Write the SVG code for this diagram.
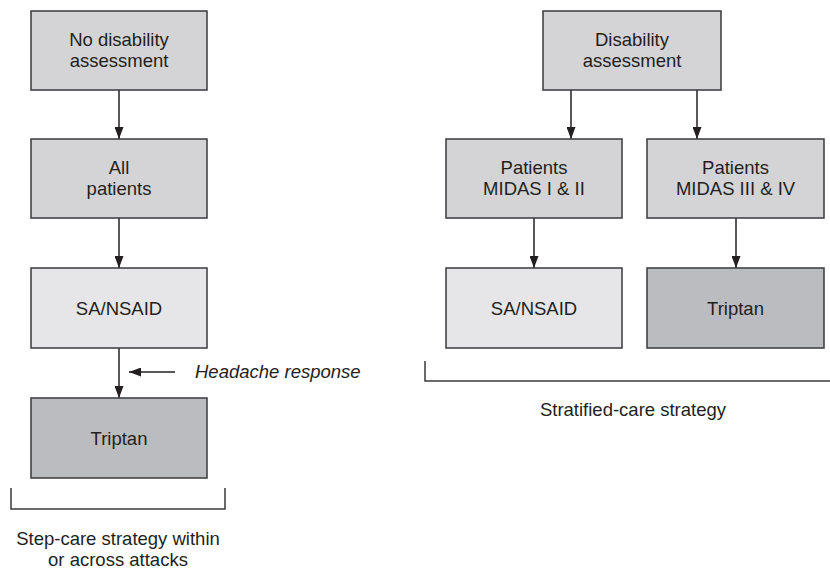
<svg xmlns="http://www.w3.org/2000/svg" width="830" height="569" viewBox="0 0 830 569">
<defs>
<marker id="ah" markerWidth="12" markerHeight="9" refX="12" refY="4.5" orient="auto" markerUnits="userSpaceOnUse" viewBox="0 0 12 9">
<path d="M0,0 L12,4.5 L0,9 Z" fill="#231f20"/>
</marker>
</defs>
<style>
.box{stroke:#3a3a3c;stroke-width:1.5}
.mid{fill:#d4d4d6}
.light{fill:#e6e6e8}
.dark{fill:#bbbcbf}
text{font-family:"Liberation Sans",Arial,sans-serif;font-size:18.5px;fill:#231f20;text-anchor:middle}
.it{font-style:italic;text-anchor:start}
.con{stroke:#231f20;stroke-width:1.5;fill:none}
.br{stroke:#3a3a3c;stroke-width:1.5;fill:none}
</style>
<rect width="830" height="569" fill="#ffffff"/>
<g id="connectors">
<line class="con" x1="119" y1="90" x2="119" y2="139" marker-end="url(#ah)"/>
<line class="con" x1="119" y1="218" x2="119" y2="268" marker-end="url(#ah)"/>
<line class="con" x1="119" y1="348" x2="119" y2="398" marker-end="url(#ah)"/>
<line class="con" x1="175" y1="372" x2="129" y2="372" marker-end="url(#ah)"/>
<line class="con" x1="571" y1="90" x2="571" y2="139" marker-end="url(#ah)"/>
<line class="con" x1="697" y1="90" x2="697" y2="139" marker-end="url(#ah)"/>
<line class="con" x1="534" y1="218" x2="534" y2="268" marker-end="url(#ah)"/>
<line class="con" x1="736" y1="218" x2="736" y2="268" marker-end="url(#ah)"/>
</g>
<g id="no-disability">
<rect class="box mid" x="31" y="11" width="176" height="79"/>
<text x="119" y="46">No disability</text>
<text x="119" y="67">assessment</text>
</g>
<g id="all-patients">
<rect class="box mid" x="31" y="139" width="176" height="79"/>
<text x="119" y="174">All</text>
<text x="119" y="195">patients</text>
</g>
<g id="sa-nsaid-left">
<rect class="box light" x="31" y="268" width="176" height="80"/>
<text x="119" y="315">SA/NSAID</text>
</g>
<g id="triptan-left">
<rect class="box dark" x="31" y="398" width="176" height="80"/>
<text x="119" y="445">Triptan</text>
</g>
<g id="headache-response">
<text class="it" x="195" y="378">Headache response</text>
</g>
<g id="step-care">
<polyline class="br" points="11,488 11,509 225,509 225,488"/>
<text x="118" y="545">Step-care strategy within</text>
<text x="118" y="566">or across attacks</text>
</g>
<g id="disability">
<rect class="box mid" x="543" y="11" width="178" height="79"/>
<text x="632" y="46">Disability</text>
<text x="632" y="67">assessment</text>
</g>
<g id="midas-1-2">
<rect class="box mid" x="446" y="139" width="176" height="79"/>
<text x="534" y="174">Patients</text>
<text x="534" y="195">MIDAS I &amp; II</text>
</g>
<g id="midas-3-4">
<rect class="box mid" x="647" y="139" width="177" height="79"/>
<text x="735.5" y="174">Patients</text>
<text x="735.5" y="195">MIDAS III &amp; IV</text>
</g>
<g id="sa-nsaid-right">
<rect class="box light" x="446" y="268" width="176" height="80"/>
<text x="534" y="315">SA/NSAID</text>
</g>
<g id="triptan-right">
<rect class="box dark" x="647" y="268" width="177" height="80"/>
<text x="735.5" y="315">Triptan</text>
</g>
<g id="stratified-care">
<polyline class="br" points="425,361 425,381 832,381"/>
<text x="633" y="416">Stratified-care strategy</text>
</g>
</svg>
